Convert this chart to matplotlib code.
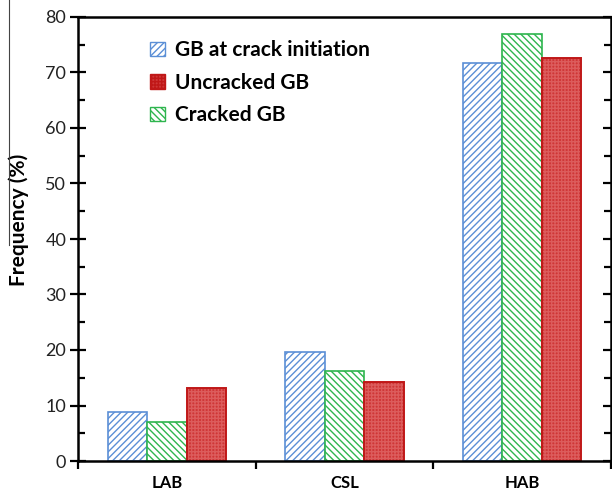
import numpy as np
import matplotlib
matplotlib.use('Agg')
import matplotlib.pyplot as plt
from matplotlib.patches import Patch
from matplotlib.lines import Line2D
from matplotlib.ticker import MultipleLocator, FixedLocator

plt.rcParams['font.family'] = ['Lato', 'DejaVu Sans']
plt.rcParams['hatch.linewidth'] = 1.0

# Datos
categorias = ['LAB', 'CSL', 'HAB']
gb_iniciacion = [8.8, 19.6, 71.7]
gb_fisurado = [7.0, 16.2, 76.9]
gb_no_fisurado = [13.1, 14.2, 72.6]

fig = plt.figure(figsize=(6.12, 4.94), dpi=100)
ax = fig.add_axes([78/612, 33/494, 533/612, 444/494])

x = np.arange(len(categorias)) + 0.5
w = 0.222

# Barras
ax.bar(x - w, gb_iniciacion, w, facecolor='white', edgecolor='#5b8fd6',
       hatch='/////', linewidth=1.2)
ax.bar(x, gb_fisurado, w, facecolor='white', edgecolor='#2eb54e',
       hatch='\\\\\\\\\\', linewidth=1.2)
ax.bar(x + w, gb_no_fisurado, w, facecolor='#cf3636', edgecolor='#dc5c5c',
       hatch='+++++', linewidth=0)
ax.bar(x + w, gb_no_fisurado, w, fill=False, edgecolor='#c01818', linewidth=1.4)

ax.set_xlim(0, 3)
ax.set_ylim(0, 80)

# Ejes
for s in ax.spines.values():
    s.set_linewidth(1.8)
ax.yaxis.set_major_locator(MultipleLocator(10))
ax.yaxis.set_minor_locator(MultipleLocator(5))
ax.tick_params(axis='y', which='major', direction='inout', length=11, width=1.6,
               labelsize=13, right=True, pad=3, labelcolor='#222222')
ax.tick_params(axis='y', which='minor', direction='in', length=5, width=1.6, right=True)
ax.xaxis.set_major_locator(FixedLocator(x))
ax.set_xticklabels(categorias, fontsize=12, fontweight='bold')
ax.xaxis.set_minor_locator(FixedLocator([0, 1, 2, 3]))
ax.tick_params(axis='x', which='major', length=0, pad=10)
ax.tick_params(axis='x', which='minor', direction='out', length=6, width=1.6)

ax.set_ylabel('Frequency (%)', fontsize=15, fontweight='bold')
ax.yaxis.set_label_coords(-0.092, 0.543)

# Leyenda
handles = [
    Patch(facecolor='white', edgecolor='#5b8fd6', hatch='/////', linewidth=1.0),
    Patch(facecolor='#cf3636', edgecolor='#c01818', hatch='+++++', linewidth=1.0),
    Patch(facecolor='white', edgecolor='#2eb54e', hatch='\\\\\\\\\\', linewidth=1.0),
]
ax.legend(handles, ['GB at crack initiation', 'Uncracked GB', 'Cracked GB'],
          loc='upper left', bbox_to_anchor=(0.1, 0.99), frameon=False,
          prop={'size': 15, 'weight': 'bold'}, handlelength=0.7, handleheight=0.7,
          handletextpad=0.5, labelspacing=0.6)

# Linea suelta a la izquierda
fig.add_artist(Line2D([9/612, 9/612], [1 - 245/494, 1.0], color='#444444', linewidth=0.8))

plt.savefig('out.png', dpi=100)
